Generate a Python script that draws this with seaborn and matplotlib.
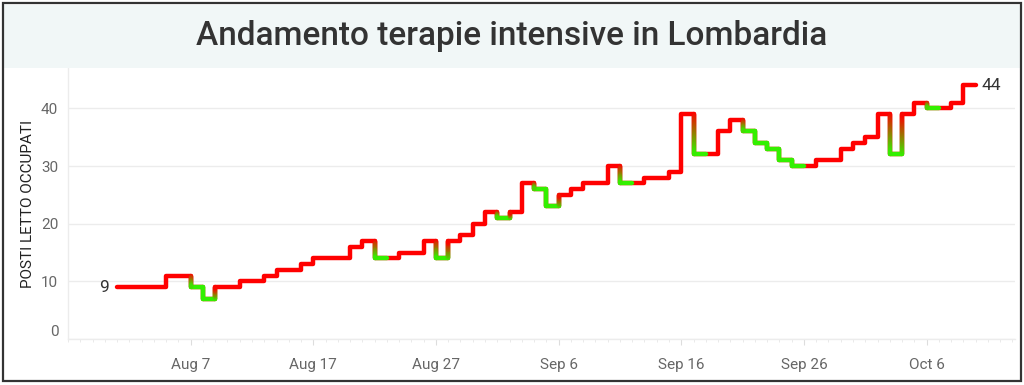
import numpy as np
import pandas as pd
import matplotlib
matplotlib.use("Agg")
import matplotlib.pyplot as plt
import matplotlib.dates as mdates
from matplotlib.collections import LineCollection
from matplotlib.colors import to_rgb
from matplotlib.patches import Rectangle
import seaborn as sns

# data, one value per day starting Aug 1
start_date = "2020-08-01"
posti = [9, 9, 9, 9, 11, 11, 9, 7, 9, 9,
         10, 10, 11, 12, 12, 13, 14, 14, 14, 16,
         17, 14, 14, 15, 15, 17, 14, 17, 18, 20,
         22, 21, 22, 27, 26, 23, 25, 26, 27, 27,
         30, 27, 27, 28, 28, 29, 39, 32, 32, 36,
         38, 36, 34, 33, 31, 30, 30, 31, 31, 33,
         34, 35, 39, 32, 39, 41, 40, 40, 41, 44]
yticks = [0, 10, 20, 30, 40]
xtick_dates = ["2020-08-07", "2020-08-17", "2020-08-27", "2020-09-06",
               "2020-09-16", "2020-09-26", "2020-10-06"]
xtick_labels = ["Aug 7", "Aug 17", "Aug 27", "Sep 6", "Sep 16", "Sep 26", "Oct 6"]

RED = "#ff0000"
GREEN = "#33f000"
LW = 3.2

sns.set_theme(style="white")
plt.rcParams["font.family"] = ["Roboto", "DejaVu Sans"]

dates = pd.date_range(start_date, periods=len(posti), freq="D")
df = pd.DataFrame({"data": dates, "posti": posti})
# repeat the last value one day later so the final step is drawn
ext = pd.concat([df, pd.DataFrame({"data": [dates[-1] + pd.Timedelta(days=1)],
                                   "posti": [posti[-1]]})], ignore_index=True)

fig = plt.figure(figsize=(10.24, 3.85), dpi=100)
ax = fig.add_axes([68 / 1024, 46 / 385, 947 / 1024, 271 / 385])

sns.lineplot(data=ext, x="data", y="posti", drawstyle="steps-post", color=RED,
             linewidth=LW, ax=ax, solid_joinstyle="round", solid_capstyle="round")

# green where the value went down, with a red/green fade on the vertical jumps
diff = df["posti"].diff().fillna(0)
col = [GREEN if d < 0 else RED for d in diff]
xn = mdates.date2num(ext["data"])
segs, cols = [], []
for i in range(len(df)):
    if col[i] == GREEN:
        segs.append([(xn[i], posti[i]), (xn[i + 1], posti[i])])
        cols.append(to_rgb(GREEN))
for i in range(1, len(df)):
    if posti[i] != posti[i - 1] and (col[i] == GREEN or col[i - 1] == GREEN):
        c0, c1 = np.array(to_rgb(col[i - 1])), np.array(to_rgb(col[i]))
        ys = np.linspace(posti[i - 1], posti[i], 21)
        for k in range(20):
            t = (k + 0.5) / 20
            segs.append([(xn[i], ys[k]), (xn[i], ys[k + 1])])
            cols.append(tuple(c0 * (1 - t) + c1 * t))
lc = LineCollection(segs, colors=cols, linewidths=LW, capstyle="round", zorder=3)
ax.add_collection(lc)

# end labels
ax.annotate(str(posti[0]), (xn[0], posti[0]), xytext=(-6, 0), textcoords="offset points",
            ha="right", va="center", fontsize=12.5, color="#333333")
ax.annotate(str(posti[-1]), (xn[-1], posti[-1]), xytext=(4, 0), textcoords="offset points",
            ha="left", va="center", fontsize=12.5, color="#333333")

ax.set_xlim(mdates.date2num(pd.Timestamp("2020-07-28")), mdates.date2num(pd.Timestamp("2020-10-13 05:00")))
ax.set_ylim(0, 47)
ax.set_yticks(yticks)
ax.set_yticklabels([str(v) for v in yticks])
ax.set_xticks(mdates.date2num(pd.to_datetime(xtick_dates)))
ax.set_xticklabels(xtick_labels)
ax.xaxis.set_minor_locator(mdates.DayLocator())
ax.tick_params(axis="y", length=0, pad=7, labelsize=11, labelcolor="#666666")
ax.tick_params(axis="x", which="major", length=4, width=0.8, color="#dddddd",
               pad=10, labelsize=11, labelcolor="#666666", bottom=True)
ax.tick_params(axis="x", which="minor", length=2, width=0.6, color="#e6e6e6", bottom=True)
ax.yaxis.get_majorticklabels()[0].set_va("bottom")
ax.set_xlabel("")
ax.set_ylabel("")
ax.grid(axis="y", color="#ececec", linewidth=1)
ax.set_axisbelow(True)
for s in ["top", "right"]:
    ax.spines[s].set_visible(False)
for s in ["left", "bottom"]:
    ax.spines[s].set_color("#ececec")
    ax.spines[s].set_linewidth(1)

fig.text(28 / 1024, 0.47, "POSTI LETTO OCCUPATI", rotation=90, ha="center", va="center",
         fontsize=11, color="#222222")

# title band and outer frame
fig.patches.append(Rectangle((4 / 1024, 317 / 385), 1016 / 1024, 63 / 385,
                             transform=fig.transFigure, facecolor="#f1f7f7",
                             edgecolor="none", zorder=0))
fig.text(0.5, 1 - 36 / 385, "Andamento terapie intensive in Lombardia", ha="center",
         va="center", fontsize=24, fontweight="medium", color="#333333")
fig.patches.append(Rectangle((3 / 1024, 4 / 385), 1018 / 1024, 378 / 385,
                             transform=fig.transFigure, facecolor="none",
                             edgecolor="#333333", linewidth=1.6, zorder=5))

fig.savefig("out.png", dpi=100)
